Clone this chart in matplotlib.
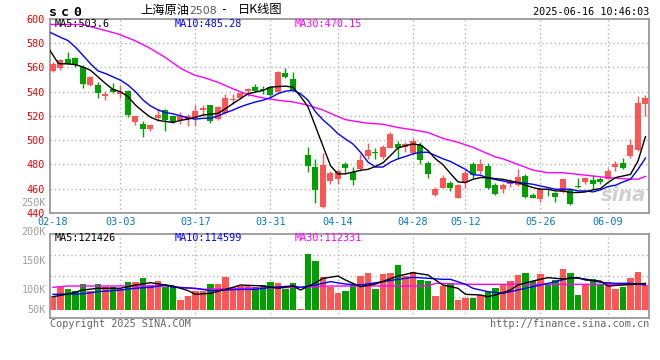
import numpy as np
import matplotlib
matplotlib.use("Agg")
import matplotlib.pyplot as plt
import matplotlib.transforms as mtransforms

# one entry per trading day, 2025-02-18 .. 2025-06-16 (80 candles)
OPEN = [557.2, 559.9, 566.7, 567.5, 560.0, 545.5, 545.5, 536.8, 541.9, 537.8,
        540.8, 514.7, 513.6, 509.5, 518.3, 525.0, 520.2, 516.4, 517.5, 518.3,
        524.9, 528.9, 517.3, 522.7, 533.0, 535.1, 541.0, 544.3, 542.4, 544.3,
        539.7, 555.4, 550.5, 509.7, 487.6, 477.6, 444.7, 466.0, 468.2, 480.3,
        473.6, 476.3, 487.2, 490.5, 485.8, 494.0, 496.7, 494.2, 489.4, 496.3,
        481.2, 455.2, 461.0, 465.1, 452.1, 465.7, 480.6, 474.4, 478.7, 463.0,
        459.6, 463.7, 462.9, 470.5, 454.7, 451.4, 460.2, 456.3, 457.4, 459.6,
        462.3, 465.6, 467.0, 468.3, 468.3, 477.9, 481.4, 486.9, 492.3, 530.0]
HIGH = [564.5, 566.7, 572.4, 569.0, 562.0, 553.0, 548.2, 540.6, 547.4, 545.5,
        541.3, 520.1, 515.5, 513.4, 525.9, 525.9, 521.0, 523.7, 521.5, 529.1,
        529.0, 529.2, 528.1, 537.8, 537.8, 540.0, 543.0, 546.0, 545.1, 544.5,
        557.0, 559.4, 556.7, 509.7, 494.6, 484.3, 489.2, 475.0, 476.0, 481.7,
        477.6, 488.6, 497.5, 493.8, 495.7, 506.4, 499.3, 498.8, 501.5, 498.4,
        483.0, 461.5, 471.1, 466.2, 464.3, 475.2, 482.0, 484.7, 481.1, 465.0,
        464.5, 468.3, 476.0, 471.9, 456.9, 461.0, 461.0, 457.4, 468.6, 460.2,
        469.2, 469.7, 471.0, 469.7, 477.3, 482.8, 485.5, 501.0, 536.5, 537.3]
LOW = [556.3, 558.2, 562.5, 560.0, 543.3, 544.6, 535.1, 533.2, 538.6, 535.0,
       519.0, 512.8, 502.5, 507.4, 515.5, 507.4, 514.2, 513.6, 512.0, 511.5,
       520.0, 514.5, 516.8, 522.0, 529.5, 533.8, 536.5, 539.7, 538.4, 536.2,
       539.0, 551.3, 541.0, 509.7, 473.6, 448.0, 444.2, 464.0, 464.0, 472.2,
       463.0, 475.0, 484.5, 484.4, 484.4, 493.2, 484.6, 490.1, 488.0, 480.4,
       469.1, 454.0, 460.8, 458.0, 452.1, 460.8, 468.9, 472.5, 460.2, 455.0,
       456.9, 461.8, 462.3, 452.5, 452.0, 449.3, 454.2, 449.3, 456.9, 447.0,
       461.0, 463.7, 459.6, 463.7, 467.8, 474.6, 476.6, 485.0, 491.0, 520.0]
CLOSE = [563.1, 565.9, 563.1, 561.8, 546.0, 552.3, 539.2, 538.1, 539.7, 540.0,
         521.0, 519.6, 509.5, 512.8, 521.0, 516.4, 514.7, 520.4, 520.0, 524.3,
         526.5, 516.2, 527.6, 534.9, 534.3, 539.2, 541.9, 540.3, 541.6, 537.3,
         556.5, 551.9, 541.6, 509.7, 479.0, 458.7, 479.5, 473.0, 474.9, 477.1,
         467.6, 483.8, 491.9, 489.8, 494.8, 504.8, 493.3, 496.9, 499.4, 484.0,
         472.0, 460.1, 469.2, 461.0, 463.5, 473.3, 471.1, 480.6, 461.0, 455.8,
         462.9, 465.9, 470.0, 452.8, 452.3, 460.2, 459.1, 452.8, 467.8, 447.4,
         461.8, 468.6, 463.7, 465.6, 474.6, 480.0, 477.3, 496.4, 531.0, 534.6]
# volume, thousands of lots
VOLUME = [89.7, 104.6, 101.7, 98.9, 110.3, 98.9, 110.3, 104.6, 104.6, 101.1,
          114.4, 114.4, 121.3, 108.6, 116.0, 104.6, 104.6, 82.8, 90.2, 98.9,
          98.9, 110.3, 110.3, 123.0, 104.6, 107.5, 107.5, 104.6, 108.6, 114.4,
          112.6, 101.7, 112.6, 67.8, 162.0, 150.0, 123.0, 105.7, 95.4, 98.9,
          108.6, 124.1, 129.9, 101.7, 127.6, 129.9, 143.1, 124.1, 131.6, 117.2,
          115.9, 90.2, 106.9, 109.8, 82.8, 86.8, 86.8, 91.4, 97.1, 104.0,
          108.6, 115.5, 125.9, 129.3, 115.5, 127.6, 109.8, 117.2, 136.2, 129.3,
          91.4, 108.6, 119.0, 108.6, 113.2, 101.7, 105.2, 121.3, 131.0, 108.6]

# moving averages (candle index, value)
MA5_IDX = [-0.4, 0.7] + list(range(1, 80))
MA5 = [574.0, 563.5, 563.1, 563.0, 562.3, 560.4, 557.7, 552.3, 546.8, 541.9, 540.0,
       536.0, 529.0, 523.7, 519.0, 516.4, 515.5, 514.7, 516.4, 517.4, 519.0,
       520.8, 521.5, 522.2, 526.0, 530.3, 534.3, 538.4, 539.7, 541.1, 543.8,
       544.3, 544.6, 543.8, 536.2, 527.6, 511.4, 495.2, 479.0, 472.2, 472.3,
       473.8, 475.2, 476.0, 478.4, 481.4, 487.4, 493.6, 495.5, 496.9, 496.1,
       491.5, 484.7, 479.8, 472.5, 465.7, 465.1, 467.8, 469.2, 469.2, 468.3,
       467.8, 466.4, 465.1, 462.9, 461.0, 459.6, 459.6, 458.2, 458.2, 456.9,
       456.9, 457.4, 459.1, 460.2, 465.1, 469.2, 470.5, 471.9, 482.8, 503.0]
MA10_IDX = [-0.4] + list(range(1, 80))
MA10 = [589.0, 584.9, 582.2, 576.7, 570.0, 563.1, 557.2, 555.0, 552.3, 549.5,
        545.5, 540.0, 533.2, 528.3, 525.0, 522.9, 521.8, 520.2, 518.3, 517.4,
        518.1, 518.1, 520.0, 522.7, 524.9, 527.6, 529.7, 531.6, 533.0, 535.1,
        538.4, 540.5, 541.1, 538.4, 533.0, 523.5, 516.8, 511.4, 505.4, 501.0,
        496.9, 490.1, 482.0, 477.9, 477.9, 482.0, 484.7, 486.6, 488.8, 490.1,
        490.1, 487.4, 484.7, 482.5, 479.2, 476.0, 471.6, 471.1, 468.9, 467.6,
        466.4, 465.1, 465.1, 464.5, 463.7, 462.3, 461.0, 459.6, 459.6, 459.6,
        458.2, 458.2, 457.4, 459.1, 461.8, 462.9, 465.6, 467.8, 476.0, 485.3]
MA30_IDX = [-0.4, 3.9, 7.1, 8.7, 10.9, 12.7, 14.9, 17.1, 18.9, 20, 22, 24, 26, 28,
            30, 32, 34, 36, 38, 39, 40, 42, 44, 46, 48, 50, 52, 54, 56, 58, 59,
            60, 62, 64, 66, 68, 70, 72, 74, 76, 78, 79]
MA30 = [595.5, 595.5, 590.3, 587.6, 582.2, 576.7, 568.6, 559.0, 553.6, 551.9,
        547.8, 542.4, 537.6, 534.9, 533.0, 531.6, 528.9, 524.9, 519.5, 517.0,
        515.9, 514.0, 513.2, 510.5, 508.6, 506.4, 501.5, 498.3, 494.2, 488.8,
        486.2, 484.7, 480.0, 475.4, 473.2, 473.2, 471.9, 470.5, 469.2, 468.3,
        467.8, 470.2]

VMA5_IDX = [0, 2, 4, 6, 9, 11, 13, 15, 16, 18, 19, 21, 24, 25, 28, 30, 32, 33,
            35, 36, 38, 39, 41, 43, 46, 48, 50, 52, 54, 55, 57, 58, 59, 61, 62,
            64, 66, 68, 70, 71, 73, 74, 76, 79]
VMA5 = [88.5, 93.0, 100.0, 103.0, 103.0, 108.6, 112.6, 108.6, 107.0, 98.9, 92.5,
        94.3, 104.6, 108.6, 107.0, 103.0, 107.0, 100.0, 112.6, 120.0, 124.1,
        117.2, 105.7, 110.3, 124.1, 129.9, 125.9, 108.6, 102.9, 92.5, 91.4,
        88.5, 91.4, 100.0, 108.6, 115.5, 121.3, 119.0, 121.3, 117.2, 115.5,
        106.9, 108.6, 111.5]
VMA10_IDX = [0, 4, 6, 9, 11, 13, 15, 16, 19, 21, 23, 25, 27, 29, 32, 33, 35, 37,
             39, 41, 44, 46, 48, 50, 52, 53, 55, 56, 58, 60, 61, 63, 65, 67, 69,
             71, 73, 75, 77, 79]
VMA10 = [92.5, 93.5, 97.1, 100.0, 103.0, 104.6, 108.6, 104.6, 103.0, 98.9, 100.0,
         101.0, 101.0, 104.6, 107.0, 104.6, 108.6, 114.4, 110.3, 108.6, 114.4,
         118.4, 121.8, 120.2, 118.4, 118.4, 109.8, 102.9, 97.1, 94.3, 97.1,
         102.9, 108.6, 114.4, 121.3, 119.0, 113.2, 111.5, 111.5, 108.6]
VMA30_IDX = [0, 2, 15, 17, 20, 26, 33, 37, 50, 51, 56, 79]
VMA30 = [104.6, 106.9, 106.9, 104.6, 101.1, 103.0, 104.6, 106.9, 107.0, 111.5,
         109.8, 109.8]

DATE_LABELS = ["02-18", "03-03", "03-17", "03-31", "04-14", "04-28", "05-12",
               "05-26", "06-09"]
DATE_IDX = [0, 9, 19, 29, 38, 48, 55, 65, 74]
PRICE_TICKS = list(range(440, 601, 20))
VOL_TICKS = [250, 200, 150, 100, 50]
VOL_TICK_LABELS = ["250K", "200K", "150K", "100K", "50K"]
VOL_BASE = 65.0

RED = "#ff5555"
GREEN = "#00a000"
GRID = "#b4b4b4"
FRAME = "#999999"
MONO = "DejaVu Sans Mono"
CJK = ["Noto Sans CJK SC", "DejaVu Sans"]

plt.rcParams["font.family"] = MONO

W, H = 660, 360
def fx(px):
    return px / W
def fy(py):
    return 1 - py / H

fig = plt.figure(figsize=(6.6, 3.6), dpi=100)
ax = fig.add_axes([fx(50), fy(213), 599 / W, 194 / H])
axv = fig.add_axes([fx(50), fy(318), 599 / W, 84 / H])

idx = np.arange(len(OPEN))
o, hi, lo, c = (np.array(a) for a in (OPEN, HIGH, LOW, CLOSE))
colors = np.where(c >= o, RED, GREEN)

# price panel
ax.set_xlim(-0.4, 79.47)
ax.set_ylim(440, 600)
for i in DATE_IDX[1:]:
    ax.axvline(i, color=GRID, lw=1, ls=(0, (1, 2)), zorder=0)
for p in PRICE_TICKS[1:-1]:
    ax.axhline(p, color=GRID, lw=1, ls=(0, (1, 2)), zorder=0)
ax.text(0.995, 0.04, "sina", transform=ax.transAxes, ha="right", va="bottom",
        fontsize=14, fontweight="bold", style="italic", color="#d0d0d0",
        family="DejaVu Sans", zorder=1)
ax.vlines(idx, lo, hi, colors=colors, lw=1, zorder=2)
ax.bar(idx, np.maximum(np.abs(c - o), 0.8), bottom=np.minimum(o, c), width=0.8,
       color=colors, linewidth=0, zorder=3)
ax.plot(MA30_IDX, MA30, color="#ff00ff", lw=1, zorder=4)
ax.plot(MA10_IDX, MA10, color="#0000ff", lw=1, zorder=4)
ax.plot(MA5_IDX, MA5, color="black", lw=1, zorder=4)

ax.set_yticks(PRICE_TICKS)
ax.set_xticks(DATE_IDX)
ax.set_xticklabels(DATE_LABELS)
ax.tick_params(axis="y", length=0, pad=4, labelcolor="#ee0000", labelsize=7.3)
ax.tick_params(axis="x", length=0, pad=3, labelcolor="#0a78c8", labelsize=7.3)

# volume panel
axv.set_xlim(-0.4, 79.47)
axv.set_ylim(51.7, 196.6)
y0, y1 = axv.get_ylim()
for f in (0.25, 0.5, 0.75):
    axv.axhline(y0 + f * (y1 - y0), color=GRID, lw=1, ls=(0, (1, 2)), zorder=0)
for i in DATE_IDX[1:]:
    axv.axvline(i, color=GRID, lw=1, ls=(0, (1, 2)), zorder=0)
vol = np.array(VOLUME)
axv.bar(idx, vol - VOL_BASE, bottom=VOL_BASE, width=0.82, color=colors,
        linewidth=0, zorder=2)
axv.plot(VMA30_IDX, VMA30, color="#ff00ff", lw=1, zorder=4)
axv.plot(VMA10_IDX, VMA10, color="#0000ff", lw=1, zorder=4)
axv.plot(VMA5_IDX, VMA5, color="black", lw=1, zorder=4)
axv.set_xticks([])
axv.set_yticks([])
trans = mtransforms.blended_transform_factory(axv.transAxes, axv.transData)
for v, lab in zip(VOL_TICKS, VOL_TICK_LABELS):
    axv.text(-0.0067, max(v, VOL_BASE), lab, transform=trans, ha="right",
             va="center", fontsize=7.3, color="#a0a0a0", clip_on=False)

for a in (ax, axv):
    for s in a.spines.values():
        s.set_color(FRAME)
        s.set_linewidth(1.3)

# header / footer texts
for ch, x in zip("sc0", (49, 61, 73)):
    fig.text(fx(x), fy(12), ch, fontsize=9.5, fontweight="bold", va="center")
fig.text(fx(140), fy(10), "上海原油", family=CJK, fontsize=8.8, va="center")
fig.text(fx(189), fy(11), "2508", family="DejaVu Sans", fontsize=7.8,
         color="#555555", va="center")
fig.text(fx(221), fy(10), "-", fontsize=8.5, va="center")
fig.text(fx(238), fy(10), "日K线图", family=CJK, fontsize=8.8, va="center")
fig.text(fx(649), fy(12), "2025-06-16 10:46:03", fontsize=7.3, ha="right",
         va="center")

for txt, x, col in (("MA5:503.6", 55, "black"), ("MA10:485.28", 175, "#0000ff"),
                    ("MA30:470.15", 295, "#ff00ff")):
    fig.text(fx(x), fy(24), txt, fontsize=7.3, color=col, va="center")
for txt, x, col in (("MA5:121426", 55, "black"), ("MA10:114599", 175, "#0000ff"),
                    ("MA30:112331", 295, "#ff00ff")):
    fig.text(fx(x), fy(238), txt, fontsize=7.3, color=col, va="center")

fig.text(fx(50), fy(324), "Copyright 2025 SINA.COM", fontsize=7.3,
         color="#666666", va="center")
fig.text(fx(649), fy(324), "http://finance.sina.com.cn", fontsize=7.3,
         color="#666666", ha="right", va="center")

fig.savefig("out.png", dpi=100)
